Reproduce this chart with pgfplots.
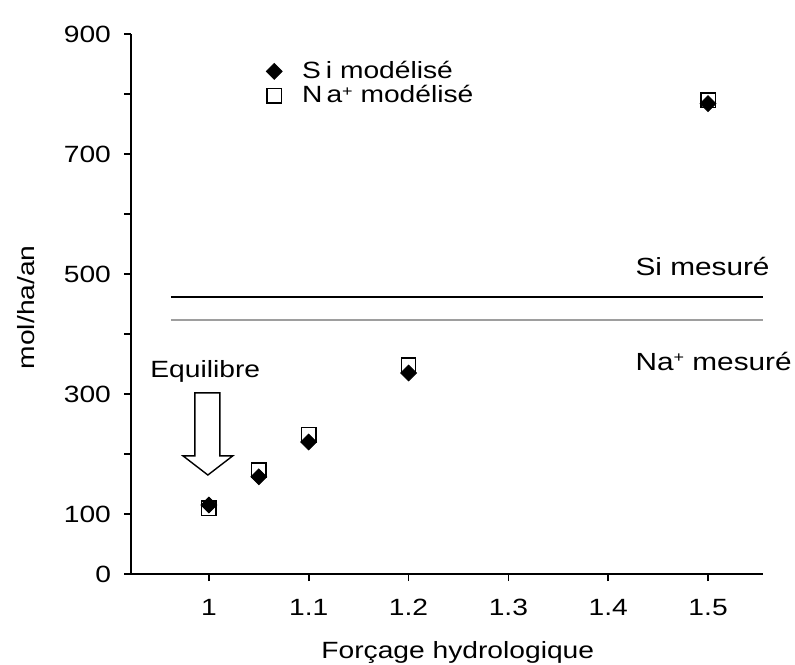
\documentclass[border=0pt]{standalone}
\usepackage{fontspec}
\setmainfont[FakeStretch=1.2]{Liberation Sans}
\usepackage{pgfplots}
\pgfplotsset{compat=1.18}
\newcommand{\plus}{\raisebox{0.55ex}{\fontsize{7.5pt}{8pt}\selectfont+}}

\begin{document}
\begin{tikzpicture}[font=\fontsize{11.75pt}{14pt}\selectfont]
\useasboundingbox (-65.5pt,-45pt) rectangle (332pt,287pt);
\begin{axis}[
    scale only axis,
    width=316pt, height=270pt,
    xmin=0.922, xmax=1.555,
    ymin=0, ymax=900,
    axis lines=left,
    axis line style={-, line width=0.9pt},
    tick align=outside,
    major tick length=3.5pt,
    tick style={black, line width=0.9pt},
    xtick={1,1.1,1.2,1.3,1.4,1.5},
    xticklabels={1,1.1,1.2,1.3,1.4,1.5},
    ytick={0,100,200,300,400,500,600,700,800,900},
    yticklabels={0,100,,300,,500,,700,,900},
    /pgf/number format/assume math mode=true,
    xticklabel style={yshift=-5.5pt},
    yticklabel style={xshift=-3pt},
    xlabel={Forçage hydrologique},
    ylabel={mol/ha/an},
    xlabel style={at={(axis description cs:0.517,-0.145)}, anchor=center},
    ylabel style={at={(axis description cs:-0.166,0.494)}, anchor=center},
    clip=false,
    legend style={at={(rel axis cs:0.204,0.965)}, anchor=north west,
        draw=none, fill=none, row sep=-2pt, column sep=8pt},
    legend cell align=left,
]
% legend
\addlegendimage{only marks, mark=square*, mark size=2.8pt, mark options={rotate=45, fill=black, draw=black}}
\addlegendentry{S\hspace{2.5pt}i modélisé}
\addlegendimage{only marks, mark=square, mark size=3.6pt, mark options={draw=black, line width=0.7pt}}
\addlegendentry{N\hspace{2pt}a\plus\ modélisé}

% measured levels
\addplot[black, line width=1pt, forget plot] coordinates {(0.962,462) (1.555,462)};
\addplot[black!38, line width=1pt, forget plot] coordinates {(0.962,423) (1.555,423)};

% Na+ modelled
\addplot[only marks, mark=square, mark size=3.6pt, mark options={draw=black, line width=0.7pt}, forget plot]
  coordinates {(1,110) (1.05,173) (1.1,232) (1.2,348) (1.5,790)};
% Si modelled
\addplot[only marks, mark=square*, mark size=2.8pt, mark options={rotate=45, fill=black, draw=black}, forget plot]
  coordinates {(1,115) (1.05,162) (1.1,220) (1.2,335) (1.5,784)};

\node[anchor=base west, inner sep=0pt, font=\fontsize{12.4pt}{15pt}\selectfont] at (axis cs:1.427,498) {Si mesuré};
\node[anchor=base west, inner sep=0pt, font=\fontsize{12.4pt}{15pt}\selectfont] at (axis cs:1.427,340) {Na\plus\ mesuré};
\node[anchor=base west, inner sep=0pt] at (axis cs:0.941,328) {Equilibre};

% arrow
\draw[line width=0.7pt, fill=white] (axis cs:0.986,302) -- (axis cs:1.011,302) -- (axis cs:1.011,197)
  -- (axis cs:1.024,197) -- (axis cs:0.999,165) -- (axis cs:0.974,197) -- (axis cs:0.986,197) -- cycle;
\end{axis}
\end{tikzpicture}
\end{document}
